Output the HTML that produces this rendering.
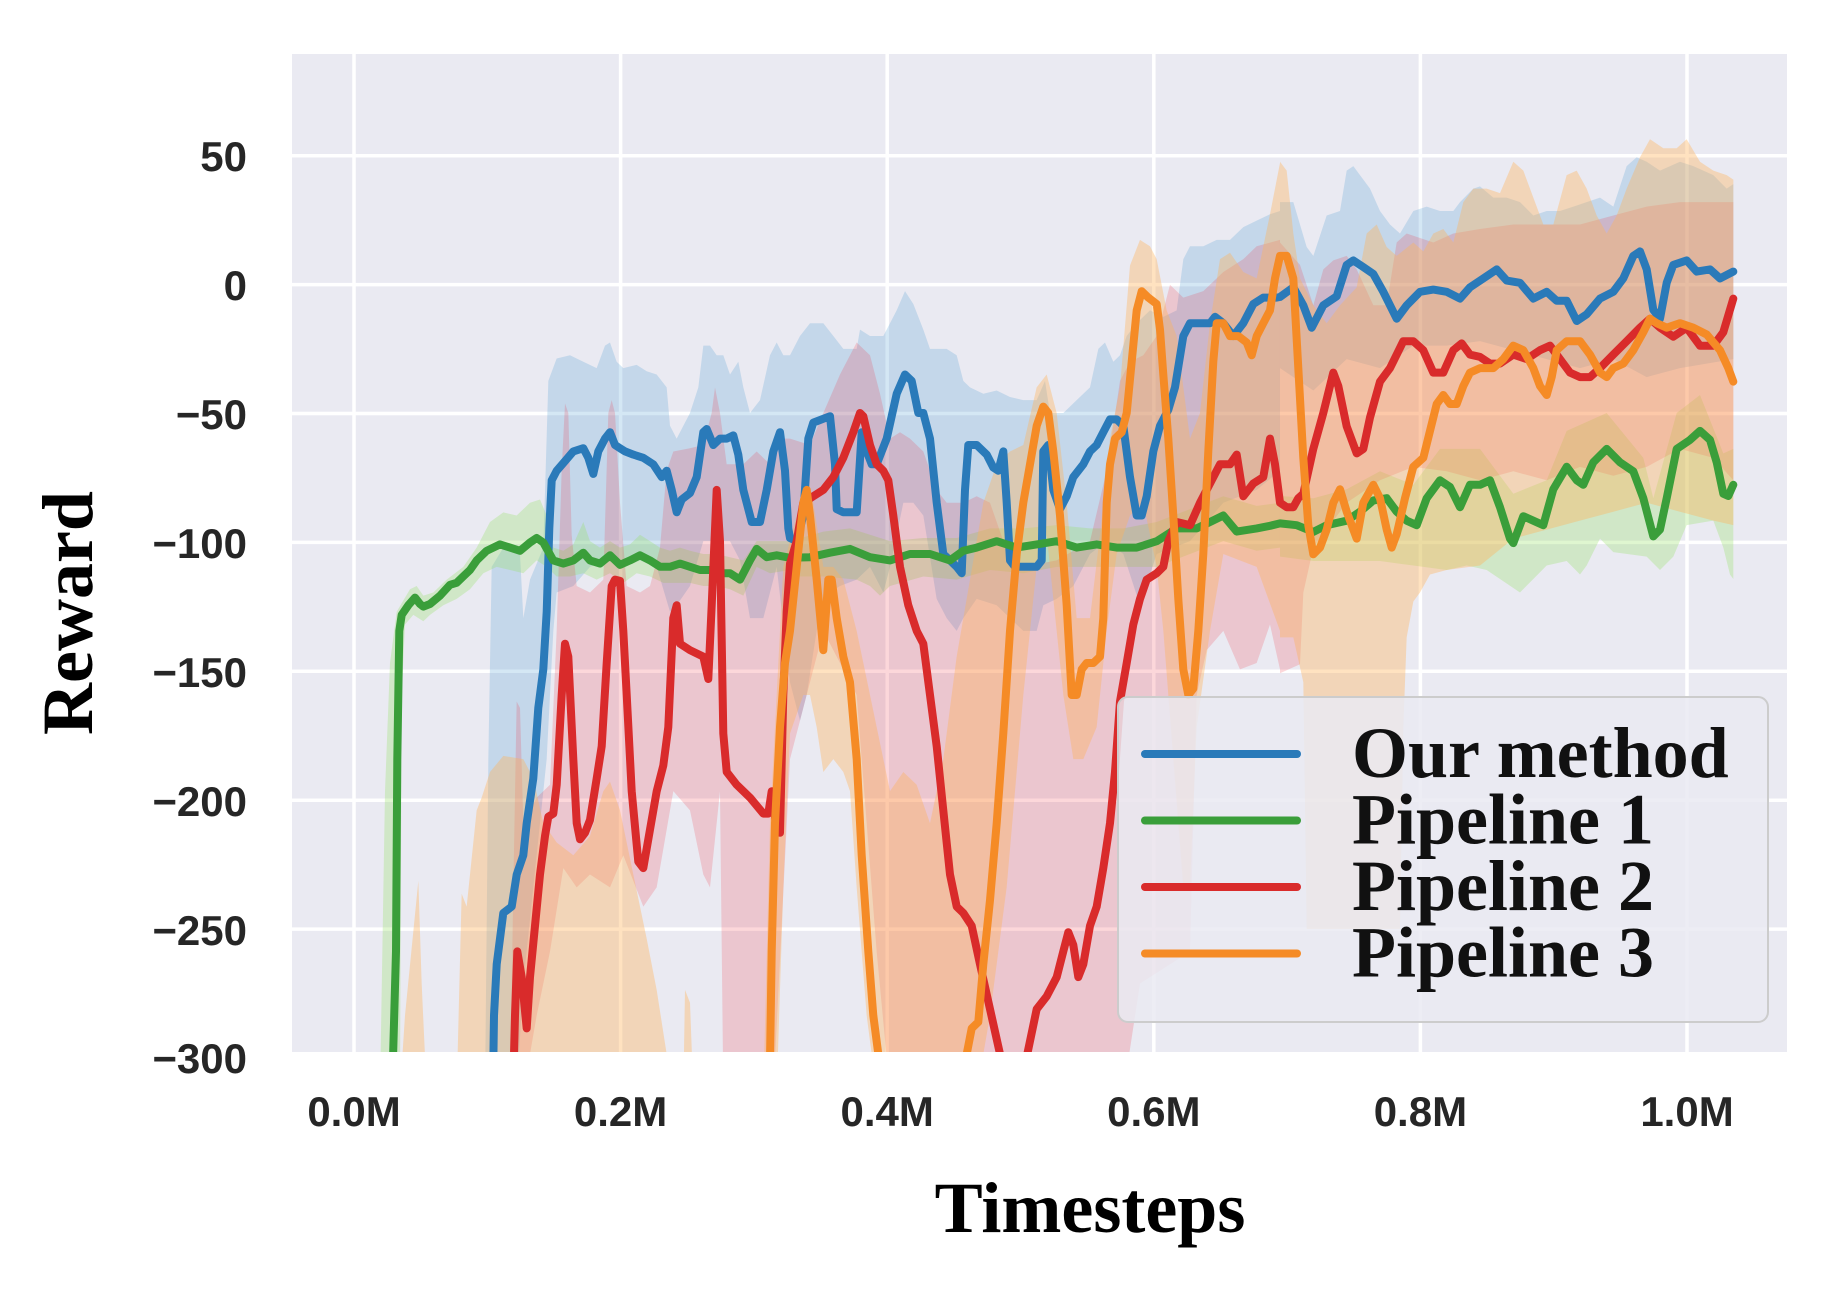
<!DOCTYPE html>
<html>
<head>
<meta charset="utf-8">
<style>
html,body{margin:0;padding:0;background:#ffffff;}
svg{display:block;}
</style>
</head>
<body>
<svg width="1840" height="1298" viewBox="0 0 1840 1298" xmlns="http://www.w3.org/2000/svg">
<defs>
<clipPath id="pc"><rect x="292" y="54" width="1495" height="998"/></clipPath>
</defs>
<rect x="0" y="0" width="1840" height="1298" fill="#ffffff"/>
<rect x="292" y="54" width="1495" height="998" fill="#eaeaf2"/>
<!-- grid -->
<g stroke="#ffffff" stroke-width="3.5">
<line x1="354" y1="54" x2="354" y2="1052"/>
<line x1="620.6" y1="54" x2="620.6" y2="1052"/>
<line x1="887.2" y1="54" x2="887.2" y2="1052"/>
<line x1="1153.8" y1="54" x2="1153.8" y2="1052"/>
<line x1="1420.4" y1="54" x2="1420.4" y2="1052"/>
<line x1="1687" y1="54" x2="1687" y2="1052"/>
<line x1="292" y1="155.7" x2="1787" y2="155.7"/>
<line x1="292" y1="284.6" x2="1787" y2="284.6"/>
<line x1="292" y1="413.5" x2="1787" y2="413.5"/>
<line x1="292" y1="542.4" x2="1787" y2="542.4"/>
<line x1="292" y1="671.3" x2="1787" y2="671.3"/>
<line x1="292" y1="800.2" x2="1787" y2="800.2"/>
<line x1="292" y1="929.1" x2="1787" y2="929.1"/>
</g>

<g clip-path="url(#pc)">
<!-- ===== BANDS ===== -->
<!-- blue -->
<g fill="#5fa6d6" fill-opacity="0.27">
<polygon transform="translate(290,54) scale(0.33333,0.64103)" points="585,1620 595,1100 605,800 640,770 690,780 700,880 720,820 760,770 775,510 800,475 840,470 880,480 920,490 945,455 960,450 980,480 1000,490 1040,485 1070,495 1100,500 1130,520 1140,580 1160,600 1200,560 1225,520 1240,455 1260,455 1280,470 1300,470 1320,500 1345,480 1360,520 1380,560 1410,540 1440,470 1460,450 1480,470 1500,470 1500,980 1460,800 1420,880 1380,880 1350,790 1320,760 1280,760 1240,760 1200,830 1160,860 1140,870 1100,800 1050,790 1000,800 950,790 900,800 850,830 800,840 790,900 770,1100 740,1250 700,1450 680,1620"/>
<polygon transform="translate(790,54) scale(0.33333,0.64103)" points="0,470 30,440 60,420 100,420 130,440 160,460 200,460 210,430 240,440 280,440 300,420 320,400 345,370 370,390 400,430 420,460 470,460 500,470 520,510 540,520 580,530 620,525 660,535 700,540 740,540 765,510 780,560 820,560 860,540 900,520 925,460 945,450 970,480 990,470 1010,440 1040,420 1080,400 1120,410 1160,400 1180,320 1200,300 1240,300 1280,290 1320,290 1360,270 1400,260 1440,250 1470,245 1470,650 1400,680 1300,700 1200,760 1100,780 1050,860 1000,780 950,760 900,780 850,830 800,850 760,860 740,900 700,900 660,880 620,860 560,850 520,880 500,900 470,880 440,850 400,720 370,700 340,700 300,800 280,840 260,820 240,800 200,820 150,830 120,840 80,900 50,1000 30,1040 0,980"/>
<polygon transform="translate(1280,54) scale(0.33333,0.44872)" points="0,330 40,330 80,430 100,450 140,360 180,350 200,260 220,250 240,270 270,300 300,350 330,380 360,400 400,350 440,340 480,350 520,350 540,330 580,300 600,295 640,320 680,320 720,330 760,360 800,350 840,350 880,340 920,330 960,320 1000,340 1040,250 1070,230 1100,240 1140,260 1200,240 1240,250 1300,270 1340,300 1360,290 1360,680 1200,700 1100,720 1000,680 900,700 800,680 700,660 600,640 500,650 400,650 300,700 200,680 100,750 0,700"/>
</g>
<!-- green -->
<g fill="#96e164" fill-opacity="0.3">
<polygon transform="translate(290,54) scale(0.33333,0.64103)" points="270,1620 285,1150 300,950 320,870 360,835 380,830 400,845 430,840 470,820 520,800 560,770 600,730 640,715 680,720 720,700 750,695 770,720 790,770 820,775 850,765 880,730 900,760 930,770 960,760 990,770 1020,765 1050,750 1080,760 1110,770 1140,775 1170,770 1200,775 1240,780 1280,780 1320,785 1360,790 1400,760 1440,760 1500,760 1500,805 1440,810 1400,800 1360,845 1320,835 1280,830 1240,830 1200,825 1160,825 1120,825 1080,815 1040,810 1000,825 960,810 920,820 880,810 840,815 800,815 770,800 740,790 700,810 660,805 620,800 580,810 540,835 500,850 460,860 420,875 400,885 370,875 345,890 335,1000 330,1620"/>
<polygon transform="translate(790,54) scale(0.33333,0.64103)" points="0,760 100,745 180,740 240,750 300,760 400,755 500,755 600,740 700,740 800,735 900,740 1000,740 1100,730 1200,710 1300,690 1400,705 1470,700 1470,770 1400,775 1300,760 1200,780 1100,800 1000,800 900,800 800,800 700,810 600,805 500,820 400,815 300,830 270,845 240,830 200,820 100,815 0,815"/>
<polygon transform="translate(1280,54) scale(0.33333,0.44872)" points="0,985 100,990 200,970 300,930 400,960 480,880 600,880 700,980 800,950 860,840 980,800 1090,900 1120,990 1190,800 1260,760 1330,890 1360,880 1360,1170 1350,1160 1330,1100 1300,1040 1220,1050 1180,1120 1140,1150 1100,1120 1000,1110 960,1080 920,1140 900,1160 860,1130 800,1140 760,1170 720,1200 680,1180 620,1150 560,1140 500,1150 400,1140 300,1130 200,1130 100,1130 0,1120"/>
</g>
<!-- red -->
<g fill="#f0283c" fill-opacity="0.19">
<polygon transform="translate(290,54) scale(0.33333,0.64103)" points="660,1620 670,1300 680,1010 690,1020 700,1200 740,1160 780,1140 800,900 815,650 825,545 835,560 845,750 860,830 900,840 940,820 955,560 965,540 975,560 990,700 1010,830 1050,840 1080,830 1110,770 1130,650 1150,620 1200,615 1240,610 1265,560 1275,520 1290,560 1310,640 1360,640 1400,620 1440,640 1470,600 1500,600 1500,1100 1450,1620 1300,1620 1290,1150 1260,1300 1240,1280 1200,1180 1150,1150 1100,1300 1060,1330 1000,1250 960,1300 900,1280 860,1300 820,1270 780,1400 740,1500 700,1620"/>
<polygon transform="translate(790,54) scale(0.33333,0.64103)" points="0,600 60,610 100,560 150,500 200,450 240,470 270,530 300,600 330,590 360,600 400,620 440,680 470,700 520,700 560,690 600,700 640,760 700,800 800,790 900,760 950,650 990,510 1020,480 1060,470 1100,440 1140,360 1180,380 1240,370 1300,340 1360,320 1400,300 1470,290 1470,960 1440,890 1400,950 1350,960 1300,900 1250,930 1220,1000 1200,1400 1050,1450 1000,1620 300,1620 260,1400 230,1200 200,1000 150,950 100,900 50,1000 0,1100"/>
<polygon transform="translate(1280,54) scale(0.33333,0.44872)" points="0,420 60,470 100,560 130,480 160,460 200,450 230,480 280,560 320,560 350,420 380,400 420,410 460,420 520,400 600,390 700,380 800,380 900,380 1000,360 1100,340 1200,330 1300,330 1360,330 1360,950 1300,900 1200,880 1100,920 1000,940 900,920 800,950 700,930 600,950 500,930 400,920 300,950 200,1000 100,1100 70,1200 60,1360 30,1370 0,1380"/>
</g>
<!-- orange -->
<g fill="#ffb35a" fill-opacity="0.38">
<polygon transform="translate(290,54) scale(0.33333,0.64103)" points="330,1620 345,1500 385,1290 395,1450 410,1620"/>
<polygon transform="translate(290,54) scale(0.33333,0.64103)" points="500,1620 515,1310 530,1330 560,1180 575,1160 600,1120 640,1095 700,1100 730,1130 760,1200 800,1230 850,1250 900,1220 940,1150 960,1135 990,1180 1030,1280 1070,1380 1100,1460 1130,1560 1140,1620"/>
<polygon transform="translate(290,54) scale(0.33333,0.64103)" points="1180,1620 1185,1460 1200,1480 1210,1620"/>
<polygon transform="translate(290,54) scale(0.33333,0.64103)" points="1420,1620 1440,1200 1460,1000 1480,800 1500,760 1500,1060 1480,1300 1460,1620"/>
<polygon transform="translate(790,54) scale(0.33333,0.64103)" points="0,760 30,700 50,650 70,700 100,800 130,800 160,820 200,900 240,1000 280,1100 300,1150 340,1120 380,1140 420,1200 460,1100 500,940 540,820 580,700 620,640 660,620 700,610 740,520 770,500 800,560 830,700 860,880 900,880 930,750 960,600 990,520 1020,330 1050,290 1080,300 1100,320 1130,400 1160,440 1200,600 1230,560 1260,420 1290,320 1320,310 1360,340 1400,350 1440,250 1470,170 1470,900 1400,800 1300,780 1260,900 1220,1050 1200,1300 1180,1300 1150,1100 1120,900 1100,800 1060,700 1020,720 980,780 950,900 920,1050 880,1100 850,1100 820,1000 800,900 770,750 740,800 700,1000 650,1300 600,1500 560,1620 260,1620 230,1500 200,1300 180,1150 160,1120 130,1100 100,1120 80,1050 60,1000 40,1000 0,1060"/>
<polygon transform="translate(1280,54) scale(0.33333,0.44872)" points="0,240 20,260 40,400 60,500 100,560 140,600 180,560 230,520 260,400 290,380 320,430 350,450 400,420 430,440 460,400 490,390 520,420 550,330 580,300 620,300 660,310 700,240 730,260 760,320 790,380 820,380 860,270 890,260 920,300 950,360 980,400 1010,360 1040,300 1080,230 1110,190 1150,210 1190,210 1220,190 1260,240 1300,260 1340,270 1360,280 1360,1050 1300,1040 1200,1020 1100,1000 1000,1020 900,1040 800,1060 700,1080 600,1140 500,1150 450,1160 420,1200 400,1220 380,1300 370,1500 360,1950 80,1950 70,1400 40,1300 0,1300"/>
</g>

<!-- ===== LINES (absolute coords) ===== -->
<g fill="none" stroke-width="8" stroke-linejoin="round" stroke-linecap="round">
<polyline stroke="#2a7ab9" points="492.7,1105.3 494,1015.5 496.7,964.3 503.3,913 511.7,906.6 516.7,874.5 523.3,855.3 526.7,823.2 533.3,778.4 538.3,707.8 543.3,669.4 546.7,611.7 549.3,528.4 551.7,480.3 556.7,470.7 565,461.1 573.3,451.4 583.3,448.2 588.3,457.8 593.3,473.9 598.3,451.4 605,438.6 610,432.2 615,445 620,448.2 625,451.4 633.3,454.6 643.3,457.8 653.3,464.3 661.7,477.1 666.7,470.7 671.7,489.9 676.7,512.3 681.7,499.5 690,493.1 696.7,477.1 703.3,432.2 706.7,429 713.3,445 720,438.6 726.7,438.6 733.3,435.4 738.3,454.6 743.3,489.9 751.7,522 760,522 766.7,489.9 773.3,451.4 780,432.2 785,470.7 788.3,528.4 790,538 796.7,541.2 803.3,515.5 808.3,438.6 813.3,422.6 830,416.2 835,464.3 836.7,509.1 843.3,512.3 856.7,512.3 861.7,432.2 866.7,451.4 871.7,464.3 876.7,464.3 886.7,438.6 896.7,393.7 905,374.5 911.7,380.9 918.3,413 923.3,413 930,438.6 936.7,502.7 943.3,554 950,560.4 956.7,566.8 961.7,573.2 965,489.9 968.3,445 976.7,445 986.7,454.6 993.3,467.5 998.3,470.7 1003.3,451.4 1006.7,502.7 1010,560.4 1015,566.8 1023.3,566.8 1036.7,566.8 1041.7,560.4 1043.3,451.4 1048.3,445 1053.3,489.9 1060,509.1 1066.7,496.3 1073.3,477.1 1083.3,464.3 1090,451.4 1096.7,445 1103.3,432.2 1110,419.4 1116.7,419.4 1123.3,425.8 1130,477.1 1136.7,515.5 1141.7,515.5 1146.7,496.3 1153.3,451.4 1160,425.8 1168.3,409.8 1175,387.3 1183.3,336.1 1190,323.2 1200,323.2 1210,323.2 1215,316.8 1223.3,323.2 1233.3,336.1 1243.3,323.2 1253.3,304 1263.3,297.6 1276.7,297.6 1280,297 1293.3,287.3 1303.3,305.3 1311.7,327.7 1323.3,305.3 1336.7,296.3 1346.7,264.9 1353.3,260.4 1363.3,267.1 1373.3,273.9 1383.3,291.8 1396.7,318.7 1406.7,305.3 1420,291.8 1433.3,289.6 1446.7,291.8 1460,298.6 1470,287.3 1483.3,278.4 1496.7,269.4 1506.7,280.6 1520,282.8 1533.3,298.6 1546.7,291.8 1556.7,300.8 1566.7,300.8 1576.7,321 1586.7,314.3 1600,298.6 1613.3,291.8 1623.3,278.4 1633.3,255.9 1640,251.4 1646.7,269.4 1653.3,309.8 1660,318.7 1666.7,282.8 1673.3,264.9 1686.7,260.4 1696.7,271.6 1710,269.4 1720,278.4 1733.3,271.6"/>
<polyline stroke="#3a9e3a" points="391.7,1105.3 396,951.4 397.3,759.1 399.3,630.9 401.7,614.9 408.3,605.3 415,597.6 420,604 423.3,606.6 430,604 440,595.7 450,584.8 456.7,582.8 463.3,576.4 470,570 476.7,560.4 486.7,550.8 500,544.4 510,547.6 520,550.8 530,542.5 536.7,538 543.3,542.5 553.3,560.4 563.3,563.6 573.3,560.4 583.3,552.7 590,560.4 600,563.6 610,555.3 620,564.9 630,560.4 640,555.3 650,560.4 660,566.8 670,566.8 680,563.6 690,566.8 700,570 710,570 720,573.2 730,573.2 740,579.6 750,560.4 756.7,548.9 766.7,557.2 776.7,555.3 790,557.8 810,557.2 830,552.7 850,548.9 870,557.2 890,560.4 910,554 930,554 950,560.4 963.3,550.8 976.7,547.6 996.7,541.2 1016.7,547.6 1036.7,544.4 1056.7,541.2 1076.7,547.6 1096.7,544.4 1116.7,547.6 1136.7,547.6 1156.7,541.2 1176.7,528.4 1196.7,528.4 1210,522 1223.3,515.5 1236.7,531.6 1256.7,528.4 1270,525.8 1280,523.4 1296.7,525.2 1313.3,531.9 1326.7,525.2 1346.7,520.7 1360,511.7 1373.3,500.5 1386.7,498.2 1396.7,511.7 1406.7,520.7 1416.7,525.2 1426.7,498.2 1440,480.3 1450,487 1460,507.2 1470,484.8 1480,484.8 1490,480.3 1500,507.2 1510,538.6 1513.3,543.1 1523.3,516.2 1533.3,520.7 1543.3,525.2 1553.3,489.3 1566.7,466.8 1576.7,480.3 1583.3,484.8 1593.3,462.3 1606.7,448.9 1620,462.3 1633.3,471.3 1643.3,498.2 1653.3,536.4 1660,529.6 1666.7,498.2 1676.7,448.9 1690,439.9 1700,430.9 1710,439.9 1716.7,462.3 1723.3,493.7 1728.3,496 1733.3,484.8"/>
<polyline stroke="#d92b2b" points="512.7,1105.3 515,1015.5 517.3,951.4 521.7,977.1 526.7,1028.4 530,977.1 535,925.8 540,874.5 545,836.1 548.3,816.8 553.3,813.6 556.7,784.8 561.7,695 565,643.7 568.3,656.6 573.3,759.1 576.7,823.2 580,839.3 585,832.8 590,820 596.7,778.4 601.7,746.3 606.7,663 611.7,586.1 615,579.6 620,580.9 623.3,630.9 626.7,695 631.7,791.2 638.3,861.7 643.3,868.1 650,829.6 656.7,791.2 663.3,765.5 668.3,727.1 673.3,618.1 676.7,605.3 680,643.7 690,650.2 703.3,656.6 708.3,679 711.7,605.3 716.7,489.9 720,541.2 723.3,733.5 726.7,771.9 736.7,784.8 750,797.6 763.3,813.6 768.3,813.6 771.7,791.2 776.7,829.6 780,832.8 783.3,695 786.7,611.7 790,563.6 796.7,541.2 803.3,502.7 813.3,496.3 823.3,489.9 833.3,477.1 843.3,457.8 853.3,432.2 860,413 863.3,416.2 870,445 876.7,464.3 883.3,470.7 888.3,480.3 893.3,515.5 900,566.8 908.3,605.3 916.7,630.9 923.3,643.7 930,695 936.7,746.3 943.3,810.4 950,874.5 956.7,906.6 963.3,913 971.7,925.8 980,964.3 990,1009.1 1000,1054 1006.7,1105.3 1020,1105.3 1027.3,1054 1036.7,1009.1 1046.7,996.3 1056.7,977.1 1063.3,951.4 1068.3,932.2 1073.3,945 1078.3,977.1 1083.3,964.3 1090,925.8 1096.7,906.6 1103.3,868.1 1110,823.2 1115,771.9 1120,701.4 1126.7,663 1133.3,624.5 1140,598.9 1146.7,579.6 1156.7,573.2 1163.3,566.8 1168.3,541.2 1176.7,522 1190,525.2 1200,502.7 1210,483.5 1220,464.3 1230,464.3 1236.7,454.6 1243.3,496.3 1253.3,483.5 1263.3,477.1 1270,438.6 1275,464.3 1280,502.7 1286.7,507.2 1293.3,507.2 1298.3,498.2 1303.3,493.7 1313.3,448.9 1323.3,413 1333.3,372.6 1338.3,386 1346.7,426.4 1356.7,453.4 1363.3,448.9 1370,417.5 1380,381.6 1390,368.1 1403.3,341.2 1413.3,341.2 1423.3,350.2 1433.3,372.6 1443.3,372.6 1453.3,350.2 1461.7,343.4 1470,354.6 1480,356.9 1490,363.6 1500,363.6 1513.3,354.6 1526.7,359.1 1540,350.2 1550,345.7 1560,359.1 1570,372.6 1580,377.1 1590,377.1 1600,368.1 1613.3,354.6 1626.7,341.2 1640,327.7 1650,318.7 1660,327.7 1673.3,336.7 1686.7,327.7 1700,345.7 1713.3,345.7 1723.3,332.2 1733.3,298.6"/>
<polyline stroke="#f58b26" points="769.3,1105.3 771.7,951.4 775,823.2 780,727.1 785,663 790,630.9 796.7,566.8 803.3,502.7 806.7,489.9 810,515.5 816.7,579.6 823.3,650.2 828.3,579.6 831.7,579.6 836.7,618.1 843.3,656.6 850,682.2 856.7,759.1 861.7,855.3 868.3,951.4 873.3,1015.5 878.3,1054 881.7,1105.3"/>
<polyline stroke="#f58b26" points="965,1105.3 966.7,1054 971.7,1028.4 978.3,1022 983.3,964.3 990,900.2 996.7,823.2 1003.3,733.5 1010,630.9 1016.7,554 1023.3,502.7 1030,464.3 1036.7,425.8 1043.3,406.6 1048.3,413 1053.3,451.4 1060,515.5 1066.7,605.3 1071.7,695 1076.7,695 1081.7,669.4 1086.7,663 1093.3,663 1100,656.6 1103.3,618.1 1106.7,502.7 1110,464.3 1115,438.6 1121.7,432.2 1126.7,413 1131.7,361.7 1136.7,310.4 1141.7,291.2 1148.3,297.6 1156.7,304 1160,329.6 1163.3,374.5 1168.3,438.6 1173.3,515.5 1178.3,598.9 1183.3,669.4 1188.3,695 1193.3,688.6 1198.3,630.9 1203.3,554 1208.3,451.4 1213.3,361.7 1216.7,323.2 1223.3,323.2 1230,336.1 1238.3,336.1 1246.7,342.5 1251.7,355.3 1256.7,336.1 1263.3,323.2 1270,310.4 1275,278.4 1280,255.9 1286.7,255.9 1293.3,278.4 1298.3,368.1 1303.3,457.8 1308.3,525.2 1313.3,554.3 1320,547.6 1326.7,529.6 1333.3,502.7 1340,489.3 1346.7,511.7 1356.7,538.6 1363.3,502.7 1373.3,484.8 1380,498.2 1386.7,529.6 1391.7,547.6 1396.7,534.1 1405,498.2 1413.3,466.8 1423.3,457.8 1430,430.9 1436.7,404 1443.3,395 1450,404 1456.7,404 1463.3,386 1470,372.6 1480,368.1 1493.3,368.1 1503.3,359.1 1513.3,345.7 1523.3,350.2 1533.3,368.1 1540,386 1546.7,395 1551.7,377.1 1556.7,350.2 1566.7,341.2 1580,341.2 1590,354.6 1600,372.6 1606.7,377.1 1613.3,368.1 1623.3,363.6 1633.3,350.2 1643.3,332.2 1650,318.7 1656.7,323.2 1666.7,327.7 1680,323.2 1693.3,327.7 1706.7,334.5 1720,350.2 1728.3,368.1 1733.3,381.6"/>
</g>
</g>

<!-- legend -->
<rect x="1118" y="697" width="650" height="325" rx="10" ry="10" fill="#eaeaf2" fill-opacity="0.85" stroke="#cccccc" stroke-width="2"/>
<g stroke-width="8" stroke-linecap="round">
<line x1="1145" y1="754" x2="1297" y2="754" stroke="#2a7ab9"/>
<line x1="1145" y1="820.5" x2="1297" y2="820.5" stroke="#3a9e3a"/>
<line x1="1145" y1="887" x2="1297" y2="887" stroke="#d92b2b"/>
<line x1="1145" y1="953.5" x2="1297" y2="953.5" stroke="#f58b26"/>
</g>
<g font-family="'Liberation Serif', 'Times New Roman', serif" font-weight="bold" font-size="72" fill="#111111">
<text x="1352" y="777">Our method</text>
<text x="1352" y="843.5">Pipeline 1</text>
<text x="1352" y="910">Pipeline 2</text>
<text x="1352" y="976.5">Pipeline 3</text>
</g>

<!-- tick labels -->
<g font-family="'Liberation Sans', Arial, sans-serif" font-weight="bold" font-size="42" fill="#262626" text-anchor="end">
<text x="247" y="171">50</text>
<text x="247" y="300">0</text>
<text x="247" y="429">−50</text>
<text x="247" y="558">−100</text>
<text x="247" y="687">−150</text>
<text x="247" y="816">−200</text>
<text x="247" y="945">−250</text>
<text x="247" y="1073">−300</text>
</g>
<g font-family="'Liberation Sans', Arial, sans-serif" font-weight="bold" font-size="42" fill="#262626" text-anchor="middle">
<text x="354" y="1126">0.0M</text>
<text x="620.6" y="1126">0.2M</text>
<text x="887.2" y="1126">0.4M</text>
<text x="1153.8" y="1126">0.6M</text>
<text x="1420.4" y="1126">0.8M</text>
<text x="1687" y="1126">1.0M</text>
</g>

<!-- axis labels -->
<text x="1090" y="1232" text-anchor="middle" font-family="'Liberation Serif', 'Times New Roman', serif" font-weight="bold" font-size="72" fill="#000000">Timesteps</text>
<text transform="translate(92,613) rotate(-90)" x="0" y="0" text-anchor="middle" font-family="'Liberation Serif', 'Times New Roman', serif" font-weight="bold" font-size="72" fill="#000000">Reward</text>
</svg>
</body>
</html>
